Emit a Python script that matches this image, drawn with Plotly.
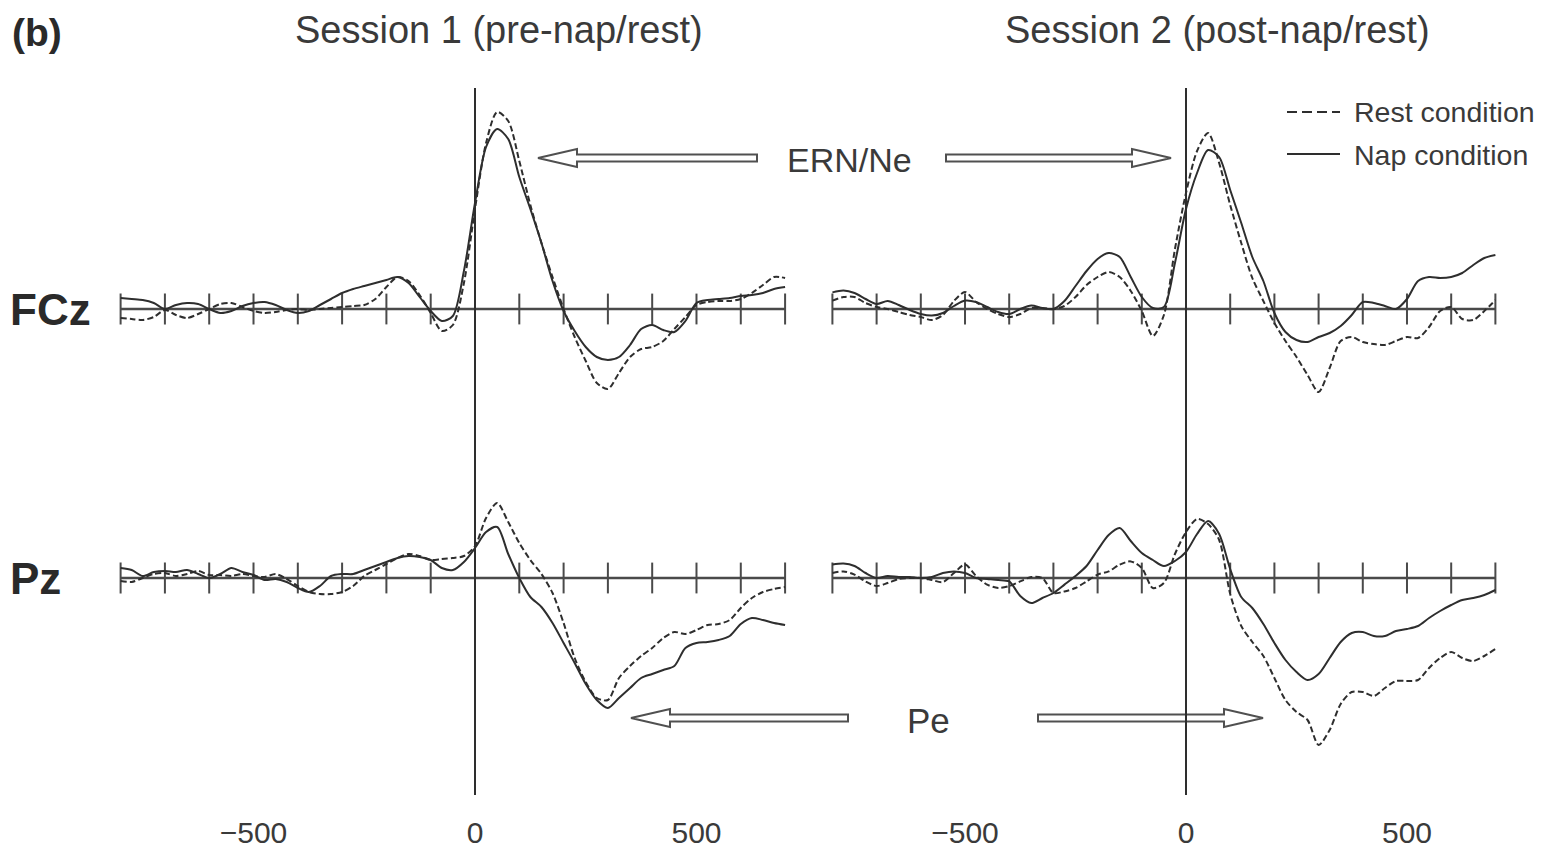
import plotly.graph_objects as go

W, H = 1542, 849

# ---------------- data (µV, negative plotted upward) ----------------
time_ms = list(range(-800, 701, 25))

s1_fcz_rest = [0.45, 0.5, 0.55, 0.4, 0.05, 0.3, 0.45, 0.25, 0.0, -0.25,
               -0.3, -0.1, 0.1, 0.2, 0.15, 0.05, 0.0, 0.05, 0.0, -0.05,
               -0.1, -0.15, -0.2, -0.5, -1.1, -1.6, -1.4, -0.7, 0.2, 1.1,
               0.8, -1.3, -5.0, -8.3, -9.85, -9.4, -7.4, -5.2, -3.3, -1.6,
               0.0, 1.4, 2.6, 3.7, 4.0, 3.2, 2.4, 2.0, 1.9, 1.6,
               1.0, 0.4, -0.2, -0.35, -0.4, -0.4, -0.5, -0.8, -1.2, -1.6,
               -1.55]
s1_fcz_nap = [-0.55, -0.5, -0.45, -0.3, 0.0, -0.2, -0.3, -0.25, 0.0, 0.2,
              0.1, -0.15, -0.3, -0.35, -0.2, 0.05, 0.2, 0.1, -0.2, -0.5,
              -0.8, -1.0, -1.15, -1.3, -1.45, -1.6, -1.3, -0.6, 0.1, 0.6,
              0.35, -1.9, -5.3, -8.1, -9.0, -8.5, -6.6, -5.0, -3.3, -1.4,
              0.1, 1.1, 1.9, 2.4, 2.55, 2.4, 1.8, 1.0, 0.8, 1.05,
              1.15, 0.6, -0.3, -0.45, -0.5, -0.55, -0.65, -0.7, -0.8, -1.0,
              -1.1]
s1_pz_rest = [0.15, 0.2, 0.0, -0.2, -0.25, -0.1, -0.2, -0.35, -0.15, -0.15,
              -0.1, -0.2, -0.1, -0.05, -0.2, 0.05, 0.4, 0.7, 0.8, 0.8,
              0.7, 0.4, -0.1, -0.4, -0.7, -1.0, -1.2, -1.1, -0.9, -0.95,
              -1.0, -1.1, -1.6, -3.0, -3.75, -2.8, -1.75, -0.9, -0.2, 0.75,
              2.25, 4.0, 5.2, 6.0, 6.1, 5.0, 4.4, 3.9, 3.5, 3.0,
              2.7, 2.8, 2.6, 2.35, 2.3, 2.1, 1.5, 1.0, 0.7, 0.55,
              0.45]
s1_pz_nap = [-0.5, -0.4, -0.1, -0.3, -0.35, -0.3, -0.4, -0.2, 0.0, -0.2,
             -0.5, -0.3, -0.15, 0.1, 0.05, 0.2, 0.5, 0.7, 0.4, -0.1,
             -0.2, -0.2, -0.4, -0.6, -0.8, -1.0, -1.1, -1.05, -0.9, -0.5,
             -0.4, -0.8, -1.5, -2.3, -2.55, -1.2, 0.0, 0.95, 1.45, 2.25,
             3.25, 4.25, 5.3, 6.1, 6.5, 6.0, 5.5, 5.0, 4.8, 4.6,
             4.4, 3.5, 3.25, 3.2, 3.1, 2.9, 2.3, 2.0, 2.1, 2.25,
             2.35]
s2_fcz_rest = [-0.42, -0.6, -0.6, -0.3, -0.1, 0.0, 0.15, 0.3, 0.4, 0.55,
               0.3, -0.4, -0.85, -0.35, 0.0, 0.25, 0.4, 0.25, -0.05, -0.05,
               0.0, -0.15, -0.6, -1.2, -1.6, -1.85, -1.6, -0.9, 0.1, 1.35,
               0.3, -3.0, -5.8, -7.9, -8.8, -7.3, -5.2, -3.3, -1.55, -0.4,
               0.7, 1.6, 2.4, 3.3, 4.15, 2.95, 1.6, 1.4, 1.65, 1.75,
               1.8, 1.6, 1.4, 1.45, 0.9, 0.1, -0.1, 0.5, 0.55, 0.1,
               -0.45]
s2_fcz_nap = [-0.83, -0.92, -0.8, -0.5, -0.25, -0.4, -0.2, 0.05, 0.25, 0.33,
              0.2, -0.15, -0.42, -0.35, -0.1, 0.15, 0.25, 0.0, -0.17, -0.05,
              0.0, -0.4, -1.15, -1.9, -2.5, -2.8, -2.6, -1.6, -0.6, -0.05,
              -0.1, -2.3, -5.0, -6.8, -7.95, -7.6, -5.95, -4.3, -2.6, -1.4,
              0.2, 1.15, 1.55, 1.65, 1.4, 1.2, 0.85, 0.3, -0.35, -0.3,
              -0.15, 0.0, -0.5, -1.4, -1.6, -1.55, -1.6, -1.8, -2.2, -2.55,
              -2.7]
s2_pz_rest = [-0.25, -0.33, -0.17, 0.17, 0.4, 0.25, 0.05, 0.0, 0.0, 0.1,
              0.2, -0.25, -0.67, -0.1, 0.33, 0.5, 0.4, 0.17, -0.05, 0.0,
              0.75, 0.67, 0.5, 0.17, -0.17, -0.33, -0.67, -0.83, -0.5, 0.5,
              0.25, -1.2, -2.3, -2.95, -2.7, -1.9, 0.8, 2.4, 3.2, 3.9,
              5.0, 6.1, 6.7, 7.1, 8.35, 7.6, 6.3, 5.7, 5.7, 5.9,
              5.5, 5.15, 5.15, 5.1, 4.5, 4.0, 3.7, 4.0, 4.15, 3.9,
              3.55]
s2_pz_nap = [-0.67, -0.72, -0.6, -0.25, 0.0, -0.1, -0.05, -0.05, 0.0, -0.05,
             -0.25, -0.33, -0.25, 0.0, 0.05, 0.1, 0.17, 0.9, 1.25, 1.0,
             0.75, 0.33, -0.1, -0.6, -1.4, -2.15, -2.5, -1.85, -1.25, -0.9,
             -0.6, -0.85, -1.3, -2.2, -2.85, -2.2, -0.45, 0.95, 1.5, 2.3,
             3.25, 4.1, 4.7, 5.1, 4.8, 4.0, 3.2, 2.75, 2.7, 2.9,
             2.9, 2.65, 2.55, 2.4, 2.0, 1.65, 1.35, 1.1, 1.0, 0.85,
             0.6]

tick_times = list(range(-800, 701, 100))
label_ticks = [-500, 0, 500]
label_text = ["\u2212500", "0", "500"]
session_titles = ["Session 1 (pre-nap/rest)", "Session 2 (post-nap/rest)"]
electrodes = ["FCz", "Pz"]
conditions = ["Rest condition", "Nap condition"]
components = ["ERN/Ne", "Pe"]
panel_label = "(b)"

# ---------------- style ----------------
INK = "#2e2e2e"
AXC = "#4a4a4a"
TXT = "#3a3a3a"
SANS = "Liberation Sans, Arial, Helvetica, sans-serif"
REST_DASH = "6px,3px"


def fx(x):
    return x / W


def fy(y):
    return 1 - y / H


fig = go.Figure()

panels = [
    ("x", "y", s1_fcz_rest, s1_fcz_nap),
    ("x2", "y2", s2_fcz_rest, s2_fcz_nap),
    ("x3", "y3", s1_pz_rest, s1_pz_nap),
    ("x4", "y4", s2_pz_rest, s2_pz_nap),
]
for xa, ya, rest, nap in panels:
    fig.add_trace(go.Scatter(
        x=[tick_times[0], tick_times[-1]], y=[0, 0], mode="lines",
        line=dict(color=AXC, width=2.5), xaxis=xa, yaxis=ya,
        showlegend=False, hoverinfo="skip"))
    fig.add_trace(go.Scatter(
        x=tick_times, y=[0] * len(tick_times), mode="markers",
        marker=dict(symbol="line-ns", size=22, color=AXC,
                    line=dict(width=2, color=AXC)),
        xaxis=xa, yaxis=ya, showlegend=False, hoverinfo="skip"))
    fig.add_trace(go.Scatter(
        x=time_ms, y=rest, mode="lines", name=conditions[0],
        line=dict(color=INK, width=2, dash=REST_DASH, shape="spline", smoothing=0.8),
        xaxis=xa, yaxis=ya, showlegend=False))
    fig.add_trace(go.Scatter(
        x=time_ms, y=nap, mode="lines", name=conditions[1],
        line=dict(color=INK, width=2, shape="spline", smoothing=0.8),
        xaxis=xa, yaxis=ya, showlegend=False))

# axis geometry (pixels)
XL_DOM = [fx(118.4), fx(787.3)]
XR_DOM = [fx(830.2), fx(1497.6)]
XRANGE = [-805, 705]
Y_FCZ_DOM = [fy(445), fy(88)]
Y_PZ_DOM = [fy(802), fy(445)]
Y_FCZ_RANGE = [(445 - 309) / 20, (88 - 309) / 20]
Y_PZ_RANGE = [(802 - 578) / 20, (445 - 578) / 20]

hidden_x = dict(visible=False, range=XRANGE, fixedrange=True)
hidden_y = dict(visible=False, fixedrange=True)
label_x = dict(range=XRANGE, showgrid=False, zeroline=False, showline=False,
               ticks="", tickmode="array", tickvals=label_ticks, ticktext=label_text,
               tickfont=dict(family=SANS, size=30, color=TXT), automargin=False,
               ticklabelstandoff=10, fixedrange=True)

fig.update_layout(
    width=W, height=H,
    margin=dict(l=0, r=0, t=0, b=0),
    paper_bgcolor="white", plot_bgcolor="white",
    showlegend=False,
    xaxis=dict(hidden_x, domain=XL_DOM, anchor="y"),
    xaxis2=dict(hidden_x, domain=XR_DOM, anchor="y2"),
    xaxis3=dict(label_x, domain=XL_DOM, anchor="y3"),
    xaxis4=dict(label_x, domain=XR_DOM, anchor="y4"),
    yaxis=dict(hidden_y, domain=Y_FCZ_DOM, range=Y_FCZ_RANGE, anchor="x"),
    yaxis2=dict(hidden_y, domain=Y_FCZ_DOM, range=Y_FCZ_RANGE, anchor="x2"),
    yaxis3=dict(hidden_y, domain=Y_PZ_DOM, range=Y_PZ_RANGE, anchor="x3"),
    yaxis4=dict(hidden_y, domain=Y_PZ_DOM, range=Y_PZ_RANGE, anchor="x4"),
)

shapes = []


def arrow_path(tip, tail, yc, head_len=39, head_half=9, shaft_half=3.5):
    d = 1 if tip > tail else -1
    base = tip - d * head_len
    pts = [(tail, yc - shaft_half), (base, yc - shaft_half), (base, yc - head_half),
           (tip, yc), (base, yc + head_half), (base, yc + shaft_half),
           (tail, yc + shaft_half)]
    return "M " + " L ".join(f"{fx(px):.5f},{fy(py):.5f}" for px, py in pts) + " Z"


for tip, tail, yc in [(538, 757, 158), (1171, 946, 158), (631, 848, 718), (1263, 1038, 718)]:
    shapes.append(dict(type="path", path=arrow_path(tip, tail, yc), xref="paper", yref="paper",
                       line=dict(color="#505050", width=2), fillcolor="white", layer="above"))

# vertical zero lines spanning both electrode rows
for xr in ["x", "x2"]:
    shapes.append(dict(type="line", xref=xr, yref="paper", x0=0, x1=0,
                       y0=fy(795), y1=fy(88), line=dict(color=INK, width=2)))

# legend samples
shapes.append(dict(type="line", xref="paper", yref="paper", x0=fx(1287), x1=fx(1340),
                   y0=fy(112), y1=fy(112), line=dict(color=INK, width=2, dash="10px,5px")))
shapes.append(dict(type="line", xref="paper", yref="paper", x0=fx(1287), x1=fx(1340),
                   y0=fy(154), y1=fy(154), line=dict(color=INK, width=2)))
fig.update_layout(shapes=shapes)

ann = []


def add_text(text, x, y, size, xanchor="center", color=TXT):
    ann.append(dict(text=text, x=fx(x), y=fy(y), xref="paper", yref="paper",
                    xanchor=xanchor, yanchor="middle", showarrow=False,
                    font=dict(family=SANS, size=size, color=color)))


add_text(f"<b>{panel_label}</b>", 10, 32, 39, "left", "#2a2a2a")
add_text(session_titles[0], 499, 30, 38)
add_text(session_titles[1], 1217, 30, 38)
add_text(f"<b>{electrodes[0]}</b>", 8, 310, 44, "left", "#2a2a2a")
add_text(f"<b>{electrodes[1]}</b>", 8, 578, 44, "left", "#2a2a2a")
add_text(components[0], 849, 160, 34)
add_text(components[1], 928, 720, 35)
add_text(conditions[0], 1352, 112, 28.5, "left")
add_text(conditions[1], 1352, 155, 28.5, "left")
fig.update_layout(annotations=ann)

fig.write_html("out.html",
               config={"displayModeBar": False},
               post_script="document.body.style.margin='0px';document.body.style.padding='0px';")
